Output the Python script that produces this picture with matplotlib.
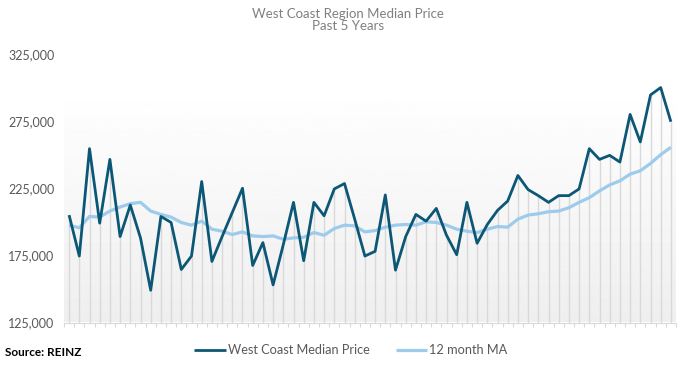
"""West Coast Region median price, past 5 years, with 12 month moving average."""
import numpy as np
import matplotlib
matplotlib.use("Agg")
import matplotlib.pyplot as plt
from matplotlib.ticker import FuncFormatter

DARK, LIGHT = "#0b5775", "#9dcbec"
GRIDV, AXIS, LABEL, TITLE = "#d9d9d9", "#d9d9d9", "#595959", "#808080"

plt.rcParams["font.family"] = ["Lato", "DejaVu Sans"]

# monthly values, oldest first (60 months)
median_price = [
    205000, 174500, 254500, 199000, 246500, 189000, 212500, 188000, 149000, 204000,
    199500, 164500, 174500, 230000, 170500, 189000, 207000, 225000, 167500, 184500,
    153000, 183000, 214500, 171000, 214500, 204500, 224500, 228500, 202000, 174500,
    178000, 220000, 164000, 189000, 205500, 200500, 210000, 190000, 175500, 214500,
    184000, 198000, 208500, 215500, 234500, 224000, 219500, 214500, 219500, 219500,
    224500, 254500, 246500, 249500, 244500, 280000, 259500, 294500, 300000, 274500,
]
ma_12 = [
    197500, 195500, 204000, 203500, 208000, 211000, 213500, 214500, 208000, 205500,
    203500, 199500, 197500, 200500, 194500, 193000, 190500, 192500, 189500, 189000,
    189500, 187000, 188000, 188500, 192000, 190000, 195000, 197500, 197000, 192500,
    193500, 196000, 197500, 198000, 197500, 200000, 199500, 197500, 194500, 193000,
    192000, 194500, 196500, 196000, 202000, 205000, 206000, 207500, 208000, 210500,
    214500, 218000, 223000, 227500, 230500, 235500, 238000, 243500, 250000, 255500,
]
y_ticks = [125000, 175000, 225000, 275000, 325000]

x = np.arange(len(median_price))

fig = plt.figure(figsize=(6.87, 3.65), dpi=100)
ax = fig.add_axes([64 / 687, 1 - 322.5 / 365, 612 / 687, (322.5 - 54) / 365])

# soft grey gradient panel behind the series
grad = np.linspace(0.935, 1.0, 256).reshape(-1, 1)
ax.imshow(grad, extent=[-0.5, len(x) - 0.5, 125000, 300000], origin="lower",
          cmap="gray", vmin=0, vmax=1, aspect="auto", zorder=0)

ax.vlines(x, 125000, median_price, color=GRIDV, linewidth=1, zorder=1)
ax.plot(x, ma_12, color=LIGHT, linewidth=2.3, solid_capstyle="butt",
        label="12 month MA", zorder=2)
ax.plot(x, median_price, color=DARK, linewidth=2.0, solid_capstyle="butt",
        label="West Coast Median Price", zorder=3)

ax.set_xlim(-0.5, len(x) - 0.5)
ax.set_ylim(125000, 325000)
ax.set_yticks(y_ticks)
ax.yaxis.set_major_formatter(FuncFormatter(lambda v, p: f"{int(v):,}"))
ax.tick_params(axis="y", length=0, pad=7, labelsize=9, labelcolor=LABEL)
ax.set_xticks(np.arange(len(x) + 1) - 0.5)
ax.set_xticklabels([])
ax.tick_params(axis="x", length=3, color=AXIS, width=0.8)
for s in ("top", "right", "left"):
    ax.spines[s].set_visible(False)
ax.spines["bottom"].set_color(AXIS)
ax.set_facecolor("white")

fig.text(348 / 687, 1 - 20 / 365, "West Coast Region Median Price\nPast 5 Years",
         ha="center", va="center", fontsize=9.5, color=TITLE, linespacing=1.1)

h, l = ax.get_legend_handles_labels()
fig.legend(h[::-1], l[::-1], loc="center", bbox_to_anchor=(351 / 687, 1 - 350 / 365),
           ncol=2, frameon=False, fontsize=9.2, labelcolor=LABEL,
           handlelength=2.5, handletextpad=0.15, columnspacing=2.0)
fig.text(5 / 687, 1 - 352 / 365, "Source: REINZ", ha="left", va="center",
         fontsize=8.5, fontweight="bold", color="black")

fig.savefig("out.png", dpi=100)
